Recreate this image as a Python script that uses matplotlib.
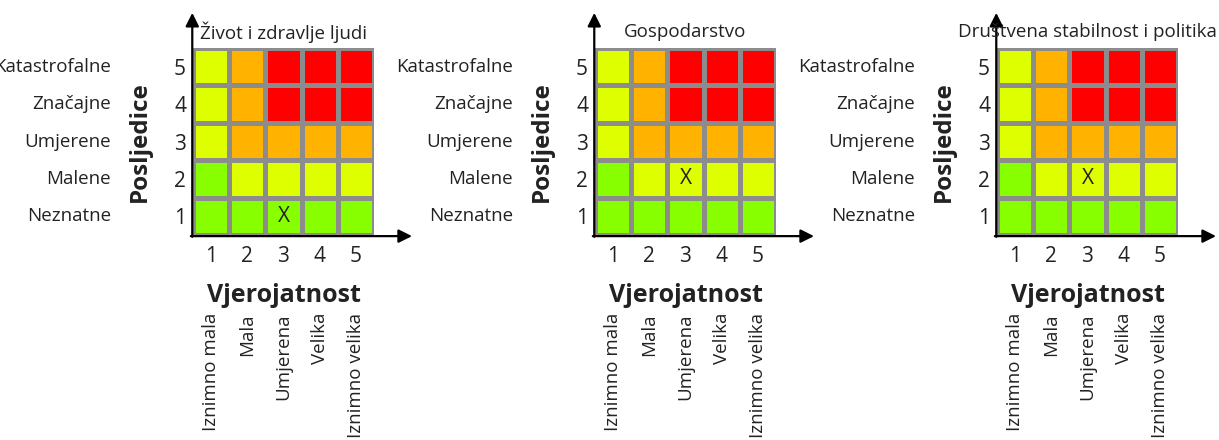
import numpy as np
import matplotlib.pyplot as plt
from matplotlib.colors import ListedColormap, BoundaryNorm
from matplotlib.transforms import offset_copy, Bbox, TransformedBbox

plt.rcParams['font.family'] = ['Open Sans', 'DejaVu Sans']

# data
titles = ['Život i zdravlje ljudi', 'Gospodarstvo', 'Društvena stabilnost i politika']
consequences = ['Neznatne', 'Malene', 'Umjerene', 'Značajne', 'Katastrofalne']
likelihood = ['Iznimno mala', 'Mala', 'Umjerena', 'Velika', 'Iznimno velika']
scale = [1, 2, 3, 4, 5]
# risk level per row (consequence 1..5) and column (likelihood 1..5)
risk = [[0, 0, 0, 0, 0],
        [0, 1, 1, 1, 1],
        [1, 2, 2, 2, 2],
        [1, 2, 3, 3, 3],
        [1, 2, 3, 3, 3]]
level_colors = ['#88ff00', '#ddff00', '#ffb300', '#ff0000']
marks = [(3, 1), (3, 2), (3, 2)]   # (likelihood, consequence) of the X

W, H = 1219, 440
fig = plt.figure(figsize=(W / 100, H / 100), dpi=100)

cmap = ListedColormap(level_colors)
norm = BoundaryNorm(np.arange(-0.5, len(level_colors)), cmap.N)
edges = np.arange(0.5, 6.0, 1.0)

grid_left, grid_top, grid_w, grid_h, step = 193, 48, 181, 187, 402
txt = '#222222'
fs = 13.5

for i in range(3):
    left = grid_left + i * step
    ax = fig.add_axes([left / W, 1 - (grid_top + grid_h) / H, grid_w / W, grid_h / H])
    ax.pcolormesh(edges, edges, np.array(risk), cmap=cmap, norm=norm,
                  edgecolors='#8c8c8c', linewidth=2.2)
    ax.set_xlim(0.5, 5.5)
    ax.set_ylim(0.5, 5.5)
    for s in ax.spines.values():
        s.set_visible(False)

    ax.set_yticks(scale)
    ax.set_yticklabels([str(v) for v in scale], fontsize=15, color=txt)
    ax.set_xticks(scale)
    ax.set_xticklabels([str(v) for v in scale], fontsize=15, color=txt)
    ax.tick_params(axis='y', length=0, pad=5)
    ax.tick_params(axis='x', length=0, pad=8)

    # axis arrows
    ax.annotate('', xy=(0.48, 6.44), xytext=(0.48, 0.45),
                arrowprops=dict(arrowstyle='-|>', color='black', lw=1.6,
                                mutation_scale=20, shrinkA=0, shrinkB=0),
                annotation_clip=False)
    ax.annotate('', xy=(6.55, 0.47), xytext=(0.44, 0.47),
                arrowprops=dict(arrowstyle='-|>', color='black', lw=1.6,
                                mutation_scale=20, shrinkA=0, shrinkB=0),
                annotation_clip=False)

    # consequence names on the left
    ytr = offset_copy(ax.get_yaxis_transform(), fig=fig, x=-82, y=0, units='dots')
    for v, name in zip(scale, consequences):
        ax.text(0, v, name, transform=ytr, ha='right', va='center', fontsize=fs,
                color=txt)

    # likelihood names below
    xtr = offset_copy(ax.get_xaxis_transform(), fig=fig, x=0, y=-78, units='dots')
    for v, name in zip(scale, likelihood):
        ax.text(v, 0, name, transform=xtr, ha='center', va='top', rotation=90,
                fontsize=fs, color=txt)

    tr = offset_copy(ax.transAxes, fig=fig, x=0, y=-61, units='dots')
    ax.text(0.5, 0, 'Vjerojatnost', transform=tr, ha='center', va='center',
            fontsize=18, fontweight='bold', color=txt)
    tr = offset_copy(ax.transAxes, fig=fig, x=-53, y=0, units='dots')
    ax.text(0, 0.5, 'Posljedice', transform=tr, ha='center', va='center',
            rotation=90, fontsize=17.5, fontweight='bold', color=txt)

    tr = offset_copy(ax.transAxes, fig=fig, x=0, y=16, units='dots')
    t = ax.text(0.5, 1, titles[i], transform=tr, ha='center', va='center',
                fontsize=fs, color=txt)
    if i == 2:
        t.set_clip_on(True)
        t.set_clip_box(TransformedBbox(Bbox([[958 / W, 0], [1, 1]]), fig.transFigure))
    else:
        t.set_clip_on(False)

    mx, my = marks[i]
    ax.text(mx, my, 'X', ha='center', va='center', fontsize=15, color=txt)

fig.savefig('out.png', dpi=100)
